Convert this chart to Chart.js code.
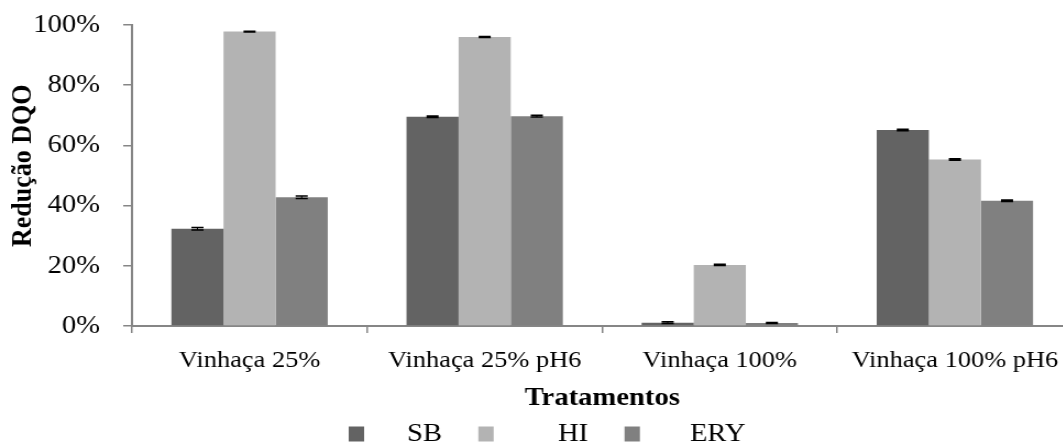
<!DOCTYPE html>
<html>
<head>
<meta charset="utf-8">
<script src="https://cdn.jsdelivr.net/npm/chart.js@4/dist/chart.umd.min.js"></script>
<style>
  html, body { margin: 0; padding: 0; background: #fff; width: 1063px; height: 444px; overflow: hidden; }
  #wrap { position: absolute; left: 0; top: 0; width: 975px; height: 457px; transform: scaleX(1.1); transform-origin: 0 0; }
</style>
</head>
<body>
<div id="wrap"><canvas id="chart"></canvas></div>
<script>
// Treatments and COD reduction (%) per inoculum, with standard deviations
const categories = ['Vinhaça 25%', 'Vinhaça 25% pH6', 'Vinhaça 100%', 'Vinhaça 100% pH6'];
const sbValues  = [32.3, 69.5, 1.1, 65.1];
const hiValues  = [97.8, 96.0, 20.3, 55.3];
const eryValues = [42.8, 69.7, 1.0, 41.6];
const sbErrors  = [0.4, 0.25, 0.3, 0.25];
const hiErrors  = [0.15, 0.15, 0.2, 0.25];
const eryErrors = [0.4, 0.3, 0.2, 0.25];
const yTickValues = [0, 20, 40, 60, 80, 100];
const xAxisTitle = 'Tratamentos';
const yAxisTitle = 'Redução DQO';

const SERIF = "'Liberation Serif', 'Times New Roman', serif";
const AXIS_GREY = '#868686';
const LEGEND_PADDING = 33;
const LEGEND_START_X = 317;   // left edge of the first legend swatch
const LEGEND_GAPS = { SB: 4, HI: 7, ERY: 5 };   // spaces between swatch and label
const X_SCALE_HEIGHT = 62;

// Draws a small black error bar (whisker + caps) on top of each bar
const errorBars = {
  id: 'errorBars',
  afterDatasetsDraw(chart) {
    const ctx = chart.ctx;
    const y = chart.scales.y;
    chart.data.datasets.forEach((ds, i) => {
      const meta = chart.getDatasetMeta(i);
      meta.data.forEach((bar, j) => {
        const v = ds.data[j], e = ds.errors[j];
        const yHi = y.getPixelForValue(v + e);
        const yLo = y.getPixelForValue(v - e);
        const half = 5.5;
        ctx.save();
        ctx.strokeStyle = '#000';
        ctx.lineWidth = 1;
        ctx.beginPath();
        ctx.moveTo(bar.x, yHi);
        ctx.lineTo(bar.x, yLo);
        ctx.stroke();
        ctx.lineWidth = 1.5;
        ctx.beginPath();
        ctx.moveTo(bar.x - half, yHi); ctx.lineTo(bar.x + half, yHi);
        ctx.moveTo(bar.x - half, yLo); ctx.lineTo(bar.x + half, yLo);
        ctx.stroke();
        ctx.restore();
      });
    });
  }
};

// Places the legend row so it starts at a fixed x
const legendPlacement = {
  id: 'legendPlacement',
  afterLayout(chart) {
    const lg = chart.legend;
    if (!lg) return;
    const w = lg.right - lg.left;
    lg.left = LEGEND_START_X - LEGEND_PADDING;
    lg.right = lg.left + w;
  }
};

function draw() {
  new Chart(document.getElementById('chart'), {
    type: 'bar',
    data: {
      labels: categories,
      datasets: [
        { label: 'SB',  data: sbValues,  errors: sbErrors,  backgroundColor: '#636363', borderWidth: 0 },
        { label: 'HI',  data: hiValues,  errors: hiErrors,  backgroundColor: '#b3b3b3', borderWidth: 0 },
        { label: 'ERY', data: eryValues, errors: eryErrors, backgroundColor: '#808080', borderWidth: 0 }
      ]
    },
    options: {
      responsive: true,
      maintainAspectRatio: false,
      animation: false,
      devicePixelRatio: 1,
      layout: { autoPadding: false, padding: { left: 0, right: 0, top: 25, bottom: 0 } },
      datasets: { bar: { categoryPercentage: 0.665, barPercentage: 1.0 } },
      scales: {
        x: {
          afterFit(scale) { scale.height = X_SCALE_HEIGHT; },
          grid: { offset: true, drawOnChartArea: false, drawTicks: true, tickLength: 7, color: AXIS_GREY, lineWidth: 1.5 },
          border: { color: AXIS_GREY, width: 2 },
          ticks: { color: '#000', font: { family: SERIF, size: 24 }, padding: 13, maxRotation: 0, autoSkip: false },
          title: { display: true, text: xAxisTitle, color: '#000', font: { family: SERIF, size: 26, weight: 'bold' }, padding: { top: 0, bottom: -26 } }
        },
        y: {
          min: 0,
          max: 100,
          afterBuildTicks(scale) { scale.ticks = yTickValues.map(v => ({ value: v })); },
          afterFit(scale) {
            scale.width = 120;
            scale.paddingTop = 0;
            scale.paddingBottom = 0;
          },
          grid: { drawOnChartArea: false, drawTicks: true, tickLength: 8, color: AXIS_GREY, lineWidth: 1.5 },
          border: { color: AXIS_GREY, width: 2 },
          ticks: { color: '#000', font: { family: SERIF, size: 26 }, padding: 21, callback: v => v + '%' },
          title: { display: true, text: '   ' + yAxisTitle, color: '#000', font: { family: SERIF, size: 26, weight: 'bold' }, padding: { top: 5.4, bottom: 0 } }
        }
      },
      plugins: {
        tooltip: { enabled: false },
        legend: {
          position: 'bottom',
          align: 'start',
          labels: {
            color: '#000',
            font: { family: SERIF, size: 26 },
            boxWidth: 14,
            boxHeight: 15,
            padding: LEGEND_PADDING,
            generateLabels(chart) {
              const items = Chart.defaults.plugins.legend.labels.generateLabels(chart);
              return items.map(it => Object.assign({}, it, {
                text: ' '.repeat(LEGEND_GAPS[it.text] || 5) + it.text,
                lineWidth: 0
              }));
            }
          }
        }
      }
    },
    plugins: [errorBars, legendPlacement]
  });
}

Promise.all([
  document.fonts.load("26px 'Liberation Serif'"),
  document.fonts.load("bold 26px 'Liberation Serif'")
]).then(draw, draw);
</script>
</body>
</html>
